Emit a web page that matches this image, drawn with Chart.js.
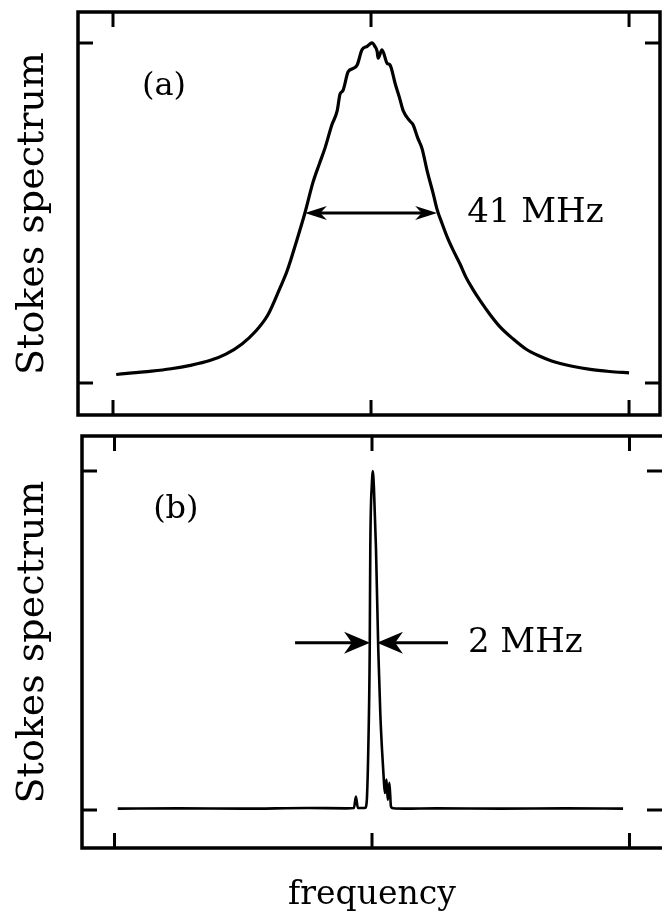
<!DOCTYPE html>
<html>
<head>
<meta charset="utf-8">
<script src="https://cdn.jsdelivr.net/npm/chart.js@4.4.1/dist/chart.umd.min.js"></script>
<style>
  html, body { margin: 0; padding: 0; background: #fff; }
  #wrap { position: relative; width: 662px; height: 920px; overflow: hidden; }
  canvas { position: absolute; left: 0; }
</style>
</head>
<body>
<div id="wrap">
  <canvas id="chartA" width="662" height="436" style="top:0px"></canvas>
  <canvas id="chartB" width="662" height="494" style="top:426px"></canvas>
</div>
<script>
// frequency offset in MHz, spectrum normalised to the peak
const freqA = [-79, -74, -68, -62, -56, -50, -45, -40, -36, -32, -28.2, -26, -23, -20.5, -18, -16,
  -14.3, -12.1, -10.5, -9.6, -8.7, -7.1, -5.5, -4.3, -2.8, -1.2, 0.3, 1.2, 1.9, 2.2, 3.4, 5, 5.9,
  7.5, 8.8, 10, 12.1, 13, 14.5, 15.8, 17.5, 19.2, 20.5, 22, 23.6, 25.5, 27.6, 29.5, 31.3, 34, 37,
  40, 44, 48, 52, 56, 62, 68, 74, 80];
const stokesA = [0.025, 0.03, 0.035, 0.042, 0.052, 0.066, 0.085, 0.115, 0.15, 0.2, 0.28, 0.33, 0.42, 0.5, 0.59, 0.645,
  0.69, 0.76, 0.8, 0.85, 0.86, 0.915, 0.925, 0.935, 0.98, 0.99, 1.0, 0.99, 0.975, 0.955, 0.98, 0.94, 0.935,
  0.88, 0.84, 0.8, 0.77, 0.76, 0.72, 0.69, 0.62, 0.56, 0.51, 0.47, 0.43, 0.39, 0.35, 0.31, 0.28, 0.24, 0.2,
  0.165, 0.13, 0.1, 0.08, 0.065, 0.05, 0.04, 0.034, 0.03];

const freqB = [-79, -60, -40, -20, -8, -5.6, -5.0, -4.4, -2.2, -1.86, -1.55, -1.15, -0.71, -0.53, 0, 0.2, 0.6,
  1.24, 1.96, 2.6, 3.1, 3.6, 4.0, 4.5, 4.9, 5.4, 5.9, 6.6, 10, 20, 40, 60, 78];
const stokesB = [0.004, 0.005, 0.004, 0.006, 0.005, 0.006, 0.04, 0.006, 0.006, 0.01, 0.04, 0.18, 0.47, 0.77, 0.97, 1.0, 0.95,
  0.77, 0.47, 0.28, 0.18, 0.1, 0.05, 0.09, 0.03, 0.08, 0.01, 0.005, 0.004, 0.005, 0.004, 0.005, 0.004];

const freqTicks = [-80, 0, 80];
const levelTicks = [0, 1];

const SERIF = '"DejaVu Serif", serif';

function points(xs, ys) {
  return xs.map((x, i) => ({ x: x, y: ys[i] }));
}

function arrowHead(ctx, tx, ty, dir, len, half) {
  ctx.beginPath();
  ctx.moveTo(tx, ty);
  ctx.lineTo(tx - dir * len, ty - half);
  ctx.lineTo(tx - dir * len * 0.7, ty);
  ctx.lineTo(tx - dir * len, ty + half);
  ctx.closePath();
  ctx.fill();
}

// box with inward ticks, y title and the panel annotations
const framePlugin = {
  id: 'frame',
  afterDraw(chart, args, opts) {
    const { ctx, chartArea: a, scales: { x, y } } = chart;
    ctx.save();
    ctx.strokeStyle = '#000';
    ctx.fillStyle = '#000';
    ctx.lineWidth = 3.5;
    ctx.strokeRect(a.left, a.top, a.right - a.left + (opts.openRight ? 8 : 0), a.bottom - a.top);
    ctx.lineWidth = 3;
    ctx.beginPath();
    freqTicks.forEach(v => {
      const px = x.getPixelForValue(v);
      ctx.moveTo(px, a.top); ctx.lineTo(px, a.top + 15);
      ctx.moveTo(px, a.bottom); ctx.lineTo(px, a.bottom - 15);
    });
    levelTicks.forEach(v => {
      const py = y.getPixelForValue(v);
      ctx.moveTo(a.left, py); ctx.lineTo(a.left + 15, py);
      ctx.moveTo(a.right, py); ctx.lineTo(a.right - 15, py);
    });
    ctx.stroke();

    // y title
    ctx.save();
    ctx.translate(43, (a.top + a.bottom) / 2);
    ctx.rotate(-Math.PI / 2);
    ctx.font = '38px ' + SERIF;
    ctx.textAlign = 'center';
    ctx.textBaseline = 'alphabetic';
    ctx.fillText('Stokes spectrum', 0, 0);
    ctx.restore();

    ctx.textAlign = 'left';
    ctx.textBaseline = 'middle';
    ctx.font = '32px ' + SERIF;
    ctx.fillText(opts.tag, x.getPixelForValue(opts.tagAt[0]), y.getPixelForValue(opts.tagAt[1]));

    const ay = y.getPixelForValue(opts.arrowLevel);
    ctx.lineWidth = 3;
    if (opts.inward) {
      const l0 = x.getPixelForValue(opts.arrowFrom[0]), l1 = x.getPixelForValue(opts.arrowFrom[1]);
      const r0 = x.getPixelForValue(opts.arrowTo[0]), r1 = x.getPixelForValue(opts.arrowTo[1]);
      ctx.beginPath();
      ctx.moveTo(l0, ay); ctx.lineTo(l1 - 15, ay);
      ctx.moveTo(r0, ay); ctx.lineTo(r1 + 15, ay);
      ctx.stroke();
      arrowHead(ctx, l1, ay, 1, 26, 11);
      arrowHead(ctx, r1, ay, -1, 26, 11);
    } else {
      const p0 = x.getPixelForValue(opts.arrowFrom[0]), p1 = x.getPixelForValue(opts.arrowFrom[1]);
      ctx.beginPath();
      ctx.moveTo(p0 + 10, ay); ctx.lineTo(p1 - 10, ay);
      ctx.stroke();
      arrowHead(ctx, p0, ay, -1, 22, 7);
      arrowHead(ctx, p1, ay, 1, 22, 7);
    }
    ctx.font = '34px ' + SERIF;
    ctx.fillText(opts.width, x.getPixelForValue(opts.widthAt[0]), y.getPixelForValue(opts.widthAt[1]));

    if (opts.xTitle) {
      ctx.textAlign = 'center';
      ctx.textBaseline = 'alphabetic';
      ctx.font = '33px ' + SERIF;
      ctx.fillText(opts.xTitle, x.getPixelForValue(0), a.bottom + 56);
    }
    ctx.restore();
  }
};

function makeChart(id, xs, ys, xRange, yRange, pad, lw, frame) {
  return new Chart(document.getElementById(id), {
    type: 'line',
    data: {
      datasets: [{
        data: points(xs, ys),
        borderColor: '#000',
        borderWidth: lw,
        pointRadius: 0,
        fill: false,
        cubicInterpolationMode: 'monotone'
      }]
    },
    options: {
      responsive: false,
      animation: false,
      devicePixelRatio: 1,
      layout: { padding: pad },
      plugins: { legend: { display: false }, tooltip: { enabled: false }, frame: frame },
      scales: {
        x: { type: 'linear', min: xRange[0], max: xRange[1], display: false },
        y: { min: yRange[0], max: yRange[1], display: false }
      }
    },
    plugins: [framePlugin]
  });
}

const chartA = makeChart('chartA', freqA, stokesA, [-90.85, 89.6], [-0.094, 1.091],
  { left: 78, top: 12, right: 2, bottom: 21 }, 3.2, {
    tag: '(a)', tagAt: [-71, 0.87],
    arrowLevel: 0.5, arrowFrom: [-20.5, 20.5], inward: false,
    width: '41 MHz', widthAt: [29.8, 0.5]
  });

const chartB = makeChart('chartB', freqB, stokesB, [-90.1, 90.1], [-0.112, 1.103],
  { left: 82, top: 10, right: 0, bottom: 72 }, 2.6, {
    openRight: true,
    tag: '(b)', tagAt: [-68, 0.885],
    arrowLevel: 0.493, arrowFrom: [-23.9, -0.6], arrowTo: [23.6, 1.55], inward: true,
    width: '2 MHz', widthAt: [29.8, 0.493],
    xTitle: 'frequency'
  });
</script>
</body>
</html>
